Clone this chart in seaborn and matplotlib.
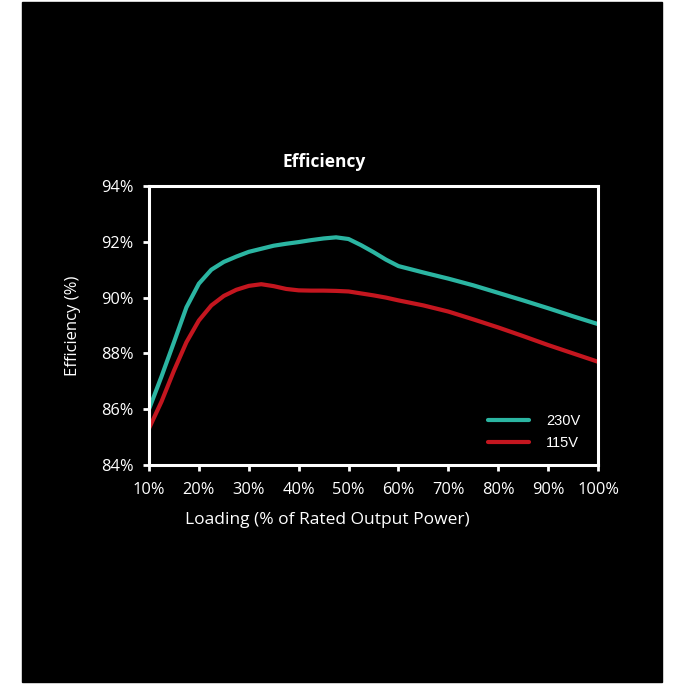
import seaborn as sns
import numpy as np
import pandas as pd
import matplotlib
matplotlib.use("Agg")
import matplotlib.pyplot as plt
from matplotlib.patches import Rectangle
from matplotlib.ticker import FuncFormatter

# Load levels (% of rated output power)
loading = [10, 12.5, 15, 17.5, 20, 22.5, 25, 27.5, 30, 32.5, 35, 37.5, 40, 42.5,
           45, 47.5, 50, 52.5, 55, 57.5, 60, 65, 70, 75, 80, 85, 90, 95, 100]

# Efficiency readings (%)
eff_230v = [86.0, 87.17, 88.4, 89.65, 90.5, 91.0, 91.28, 91.47, 91.64, 91.75,
            91.86, 91.93, 91.99, 92.06, 92.12, 92.16, 92.1, 91.88, 91.63, 91.36,
            91.13, 90.9, 90.68, 90.44, 90.17, 89.9, 89.62, 89.33, 89.05]
eff_115v = [85.31, 86.27, 87.38, 88.4, 89.18, 89.72, 90.06, 90.28, 90.42, 90.48,
            90.41, 90.31, 90.26, 90.25, 90.25, 90.24, 90.22, 90.15, 90.08, 90.0,
            89.9, 89.72, 89.5, 89.22, 88.93, 88.62, 88.3, 88.0, 87.7]

series = ["230V", "115V"]
colors = {"230V": "#2bb5a2", "115V": "#c4161f"}

data = pd.DataFrame({
    "Loading": loading * 2,
    "Efficiency": eff_230v + eff_115v,
    "Input": [series[0]] * len(loading) + [series[1]] * len(loading),
})

sns.set_theme(style="ticks")
plt.rcParams["font.family"] = ["Open Sans", "DejaVu Sans"]

fig = plt.figure(figsize=(6.84, 6.84), dpi=100)
fig.patch.set_facecolor("white")
fig.add_artist(Rectangle((22 / 684, 2 / 684), 640 / 684, 680 / 684,
                         transform=fig.transFigure, color="black", zorder=0))

ax = fig.add_axes([149 / 684, 1 - 465 / 684, 449 / 684, 279 / 684])
ax.set_facecolor("black")

sns.lineplot(data=data, x="Loading", y="Efficiency", hue="Input",
             palette=colors, linewidth=3, ax=ax, legend=True)

ax.set_xlim(10, 100)
ax.set_ylim(84, 94)
ax.set_xticks(np.arange(10, 101, 10))
ax.set_yticks(np.arange(84, 95, 2))
ax.xaxis.set_major_formatter(FuncFormatter(lambda v, p: f"{v:.0f}%"))
ax.yaxis.set_major_formatter(FuncFormatter(lambda v, p: f"{v:.0f}%"))

for s in ax.spines.values():
    s.set_color("white")
    s.set_linewidth(2.2)
    s.set_visible(True)

ax.tick_params(colors="white", labelcolor="white", labelsize=11.8,
               width=2, length=4)
ax.tick_params(axis="x", pad=8)
ax.tick_params(axis="y", pad=7)

ax.set_xlabel("Loading (% of Rated Output Power)", color="white",
              fontsize=12.5, labelpad=10)
ax.xaxis.set_label_coords(0.397, -0.17)
ax.set_ylabel("Efficiency (%)", color="white", fontsize=12, labelpad=10)
ax.yaxis.set_label_coords(-0.152, 0.5)
ax.set_title("Efficiency", color="white", fontsize=12.5, fontweight="bold",
             pad=14, x=0.39)

leg = ax.legend(loc="lower right", frameon=False,
                handlelength=2.8, handletextpad=1.2, labelspacing=0.55,
                bbox_to_anchor=(0.99, 0.008),
                prop={"family": "Liberation Sans", "size": 10.5})
for t in leg.get_texts():
    t.set_color("white")
for l in leg.get_lines():
    l.set_linewidth(3)

fig.savefig("out.png", dpi=100, facecolor=fig.get_facecolor())
